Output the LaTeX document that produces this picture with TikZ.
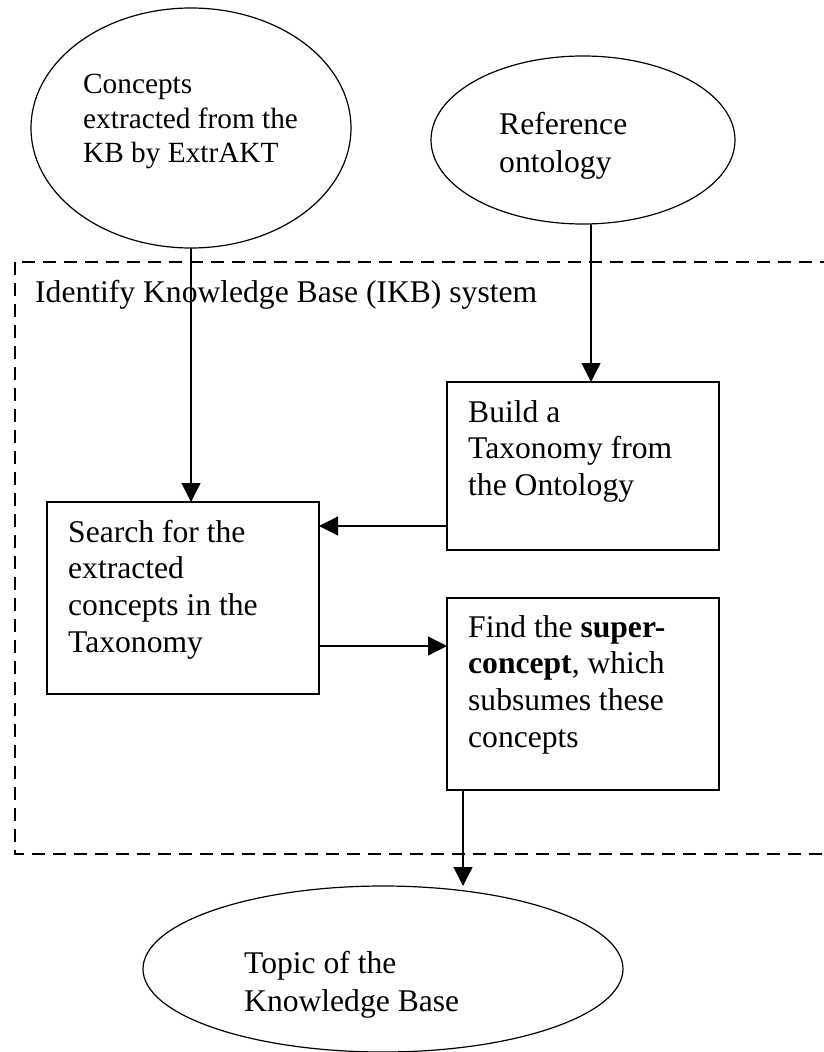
\documentclass[tikz,border=0pt]{standalone}
\usepackage{fontspec}
\setmainfont{Liberation Serif}
\usetikzlibrary{arrows.meta,shapes.geometric}
\begin{document}
\begin{tikzpicture}[x=1pt,y=-1pt,
  shp/.style={draw,line width=1.2pt,inner sep=0pt,outer sep=0pt},
  boxn/.style={shp,rectangle,minimum width=272pt},
  ell/.style={shp,ellipse},
  txt/.style={anchor=base west,inner sep=0pt,font=\fontsize{31.6}{36.5}\selectfont},
  txts/.style={anchor=base west,inner sep=0pt,font=\fontsize{29.3}{34}\selectfont},
  arr/.style={line width=1.2pt,-{Triangle[length=19pt,width=19pt]}},
  frame/.style={line width=1.2pt,dash pattern=on 13pt off 8pt}]
\useasboundingbox (0,0) rectangle (824,1052);

% shapes
\node[ell,minimum width=320pt,minimum height=240pt] (ext) at (191,128) {};
\node[ell,minimum width=304pt,minimum height=168pt] (ont) at (583,140) {};
\node[boxn,minimum height=168pt] (build) at (583,466) {};
\node[boxn,minimum height=192pt] (search) at (183,598) {};
\node[boxn,minimum height=192pt] (find) at (583,694) {};
\node[ell,minimum width=480pt,minimum height=166pt] (topic) at (383,969) {};

% system frame
\draw[frame] (15,262) rectangle (840,854);
\node[txt] (lbl) at (35,302) {Identify Knowledge Base (IKB) system};

% texts
\node[txts] (e1) at (83,93) {Concepts};
\node[txts] (e2) at (83,128) {extracted from the};
\node[txts] (e3) at (83,162) {KB by ExtrAKT};

\node[txt] (o1) at (499,134) {Reference};
\node[txt] (o2) at (499,172) {ontology};

\node[txt] (b1) at (468,422) {Build a};
\node[txt] (b2) at (468,458) {Taxonomy from};
\node[txt] (b3) at (468,495) {the Ontology};

\node[txt] (s1) at (68,542) {Search for the};
\node[txt] (s2) at (68,578) {extracted};
\node[txt] (s3) at (68,615) {concepts in the};
\node[txt] (s4) at (68,652) {Taxonomy};

\node[txt] (f1) at (468,637) {Find the \textbf{super-}};
\node[txt] (f2) at (468,673) {\textbf{concept}, which};
\node[txt] (f3) at (468,710) {subsumes these};
\node[txt] (f4) at (468,747) {concepts};

\node[txt] (t1) at (244,973) {Topic of the};
\node[txt] (t2) at (244,1011) {Knowledge Base};

% connectors
\draw[arr] (ext.south) -- (ext.south |- search.north);
\draw[arr] ([xshift=8pt]ont.south) -- ([xshift=8pt]build.north);
\draw[arr] ([yshift=-60pt]build.west) -- ([yshift=-60pt]build.west -| search.east);
\draw[arr] ([yshift=-48pt]search.east) -- ([yshift=-48pt]search.east -| find.west);
\draw[arr] ([xshift=-120pt]find.south) -- ([xshift=-120pt]find.south |- topic.north);
\end{tikzpicture}
\end{document}
